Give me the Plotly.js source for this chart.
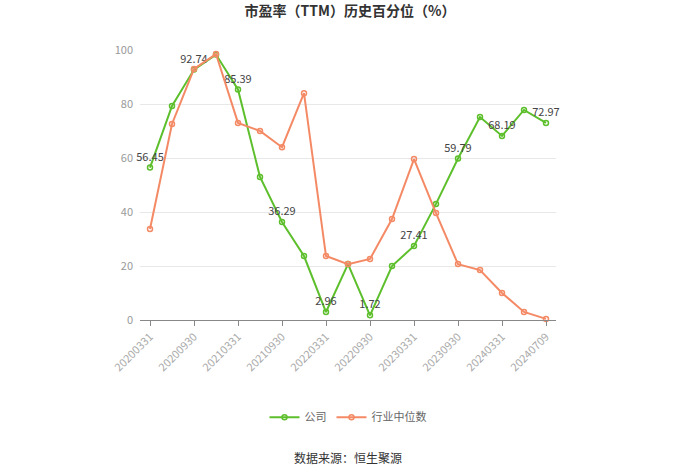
<!DOCTYPE html>
<html><head><meta charset="utf-8">
<script src="https://cdn.plot.ly/plotly-3.0.1.min.js"></script>
<style>html,body{margin:0;padding:0;background:#fff;}#chart{width:700px;height:474px;}</style>
</head><body><div id="chart"></div>
<script>
const dates = ["20200331","20200630","20200930","20201231","20210331","20210630","20210930","20211231","20220331","20220630","20220930","20221231","20230331","20230630","20230930","20231231","20240331","20240630","20240709"];
const tickDates = ["20200331","20200930","20210331","20210930","20220331","20220930","20230331","20230930","20240331","20240709"];
const company = [56.45,79.3,92.74,98.3,85.39,53.0,36.29,23.7,2.96,20.7,1.72,20.0,27.41,43.0,59.79,75.2,68.19,77.8,72.97];
const industry = [33.7,72.6,93.0,98.5,73.0,70.0,64.0,84.0,23.7,20.7,22.6,37.4,59.6,39.6,20.7,18.5,10.0,3.0,0.4];
const labelIdx = [0,2,4,6,8,10,12,14,16,18];
const companyText = company.map((v,i)=> labelIdx.includes(i) ? v.toFixed(2) : "");

const green = "#5dbf2c", orange = "#f48a65";
const traces = [
 {x: dates, y: company, name: "公司", type: "scatter", mode: "lines+markers+text",
  text: companyText, textposition: "top center", textfont: {size: 11, color: "#444"},
  line: {color: green, width: 2}, marker: {symbol: "circle-open", size: 5, color: green, line: {width: 1.5}},
  cliponaxis: false},
 {x: dates, y: industry, name: "行业中位数", type: "scatter", mode: "lines+markers",
  line: {color: orange, width: 2}, marker: {symbol: "circle-open", size: 5, color: orange, line: {width: 1.5}},
  cliponaxis: false}
];
const layout = {
 width: 700, height: 474,
 margin: {l: 140, r: 144, t: 50, b: 154},
 paper_bgcolor: "#fff", plot_bgcolor: "#fff",
 font: {family: "'Noto Sans CJK SC', 'Noto Sans', sans-serif", color: "#999", size: 11},
 title: {text: "<b>市盈率（TTM）历史百分位（%）</b>", x: 0.5, xanchor: "center", y: 0.977, yanchor: "middle",
   font: {size: 14, color: "#333"}},
 xaxis: {type: "category", categoryorder: "array", categoryarray: dates,
   range: [-0.4545, 18.4545], tickmode: "array", tickvals: tickDates, ticktext: tickDates,
   tickangle: -45, ticks: "outside", ticklen: 5, tickcolor: "#888", showline: true, linecolor: "#888", linewidth: 1,
   showgrid: false, zeroline: false, tickfont: {size: 11, color: "#aaa"}, fixedrange: true},
 yaxis: {range: [0, 100], tickvals: [0,20,40,60,80,100], showgrid: true, gridcolor: "#e8e8e8", gridwidth: 1,
   zeroline: false, showline: false, ticks: "", ticklen: 0, ticklabelstandoff: 6,
   tickfont: {size: 11, color: "#999"}, fixedrange: true},
 showlegend: true,
 legend: {orientation: "h", x: 0.5, xanchor: "center", y: -0.36, yanchor: "middle",
   font: {size: 11, color: "#666"}, itemwidth: 30},
 annotations: [{text: "数据来源：恒生聚源", xref: "paper", yref: "paper", x: 0.5, y: -0.508, yanchor: "middle",
   showarrow: false, font: {size: 12, color: "#333"}}]
};
Plotly.newPlot("chart", traces, layout, {displayModeBar: false, staticPlot: true});
</script></body></html>
